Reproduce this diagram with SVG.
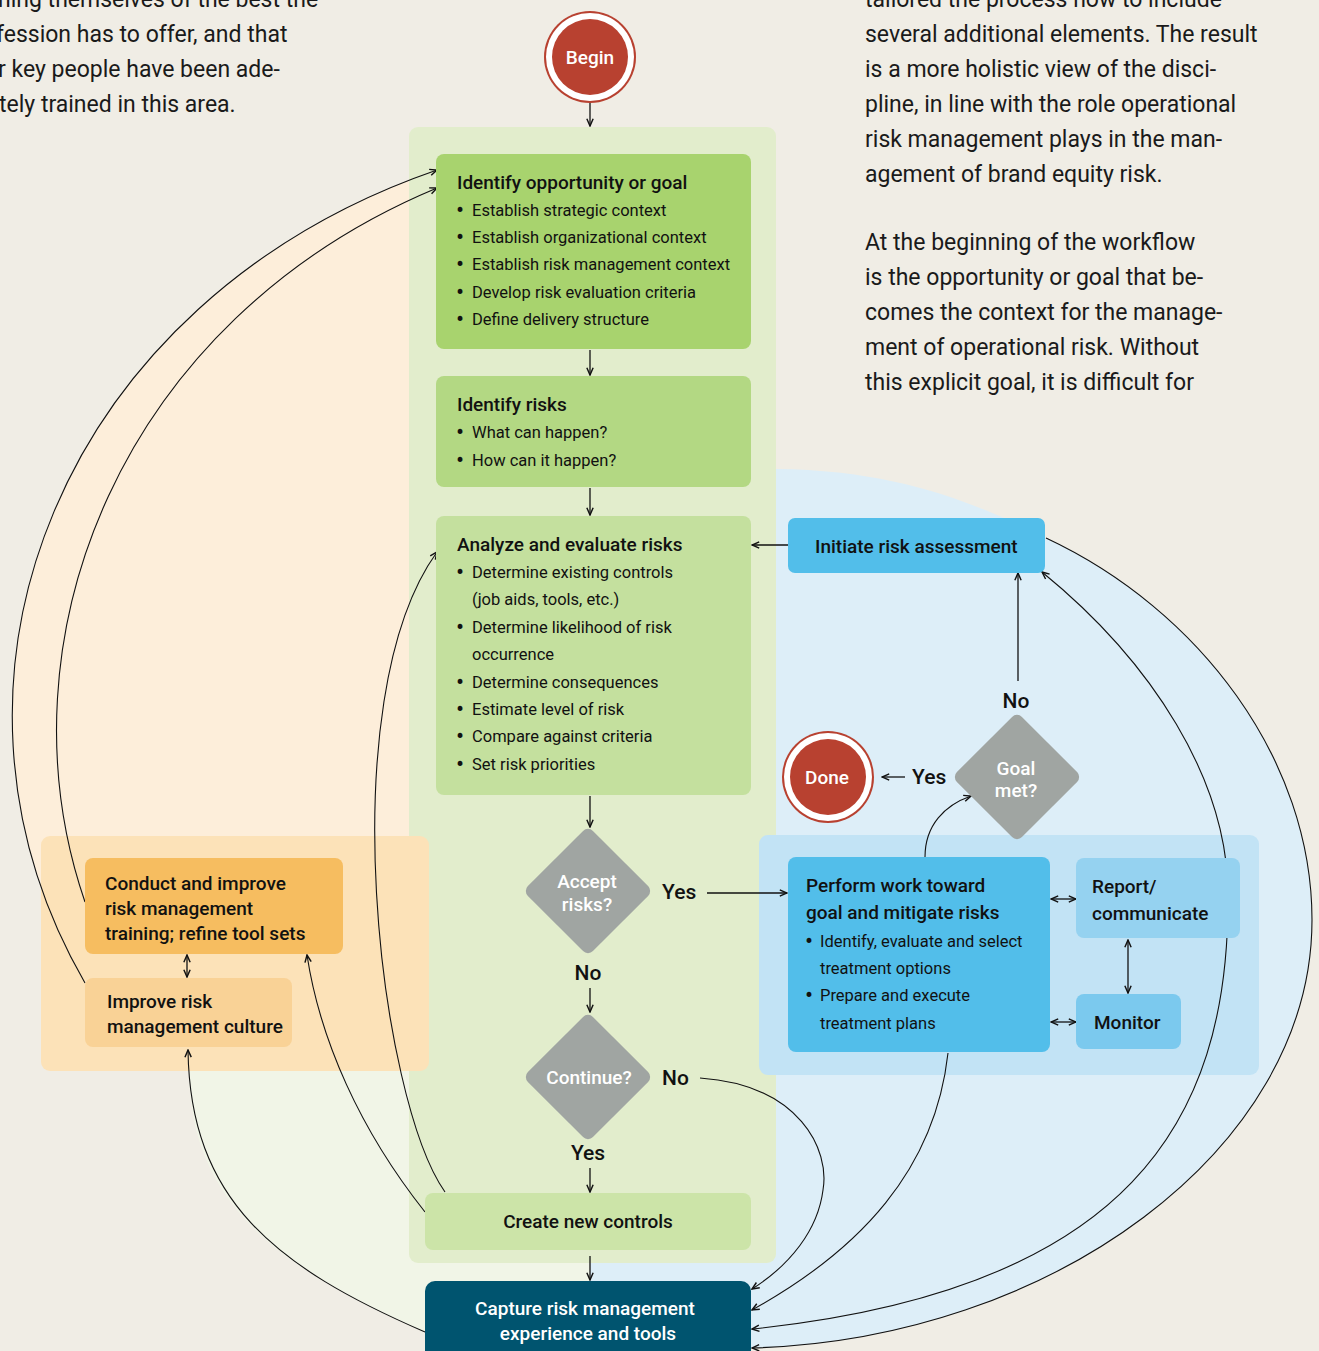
<svg xmlns="http://www.w3.org/2000/svg" width="1319" height="1351" viewBox="0 0 1319 1351">
<style>
.body{font-family:Roboto,"Liberation Sans",sans-serif;font-size:23px;fill:#1a1a1a}
.t{font-family:Roboto,"Liberation Sans",sans-serif;font-size:19px;font-weight:500;fill:#111}
.b{font-family:Roboto,"Liberation Sans",sans-serif;font-size:16.5px;fill:#111}
.d{font-family:Roboto,"Liberation Sans",sans-serif;font-size:24px;fill:#111}
.w{font-family:Roboto,"Liberation Sans",sans-serif;font-size:19px;font-weight:500;fill:#fff}
.lab{font-family:Roboto,"Liberation Sans",sans-serif;font-size:21px;font-weight:500;fill:#111}
.c{text-anchor:middle}
.ln{fill:none;stroke:#111;stroke-width:1.3}
.cv{fill:none;stroke:#111;stroke-width:1.1}
.dia{fill:#A0A5A2}
</style>
<defs>
<marker id="ah" viewBox="0 0 10 10" refX="9" refY="5" markerWidth="9" markerHeight="9" markerUnits="userSpaceOnUse" orient="auto-start-reverse">
<path d="M1,1.5 L9,5 L1,8.5" fill="none" stroke="#111" stroke-width="1.6"/>
</marker>
</defs>
<rect width="1319" height="1351" fill="#F0EDE5"/>
<g id="backgrounds">
<path d="M437,170 C60,300 -90,680 85,983 L100,1071 L430,1071 L430,160 Z" fill="#FDEEDA"/>
<path d="M425,1332 C275,1267 190,1200 189,1071 L590,1071 L590,1345 L425,1345 Z" fill="#F1F5E7"/>
<path d="M776,469 C900,470 980,505 1046,538 C1200,610 1312,760 1312,920 C1312,1150 1050,1340 752,1348 L590,1348 L590,1262 L700,1262 L700,469 Z" fill="#DDEEF8"/>
<rect x="409" y="127" width="367" height="1136" rx="9" fill="#E2EDCC"/>
<rect x="41" y="836" width="388" height="235" rx="9" fill="#FCE2B8"/>
<rect x="759" y="835" width="500" height="240" rx="9" fill="#C2E3F5"/>
</g>
<g id="text-left">
<text class="body" x="-2" y="7">ning themselves of the best the</text>
<text class="body" x="-4" y="42">fession has to offer, and that</text>
<text class="body" x="-2" y="77">r key people have been ade-</text>
<text class="body" x="-1" y="112">tely trained in this area.</text>
</g>
<g id="text-right">
<text class="body" x="865" y="7">tailored the process how to include</text>
<text class="body" x="865" y="42">several additional elements. The result</text>
<text class="body" x="865" y="77">is a more holistic view of the disci-</text>
<text class="body" x="865" y="112">pline, in line with the role operational</text>
<text class="body" x="865" y="147">risk management plays in the man-</text>
<text class="body" x="865" y="182">agement of brand equity risk.</text>
<text class="body" x="865" y="250">At the beginning of the workflow</text>
<text class="body" x="865" y="285">is the opportunity or goal that be-</text>
<text class="body" x="865" y="320">comes the context for the manage-</text>
<text class="body" x="865" y="355">ment of operational risk. Without</text>
<text class="body" x="865" y="390">this explicit goal, it is difficult for</text>
</g>
<g id="connectors">
<line class="ln" x1="590" y1="100" x2="590" y2="126" marker-end="url(#ah)"/>
<line class="ln" x1="590" y1="350" x2="590" y2="375" marker-end="url(#ah)"/>
<line class="ln" x1="590" y1="488" x2="590" y2="515" marker-end="url(#ah)"/>
<line class="ln" x1="590" y1="796" x2="590" y2="827" marker-end="url(#ah)"/>
<line class="ln" x1="707" y1="893" x2="787" y2="893" marker-end="url(#ah)"/>
<line class="ln" x1="590" y1="988" x2="590" y2="1012" marker-end="url(#ah)"/>
<line class="ln" x1="590" y1="1168" x2="590" y2="1192" marker-end="url(#ah)"/>
<line class="ln" x1="590" y1="1256" x2="590" y2="1280" marker-end="url(#ah)"/>
<line class="ln" x1="788" y1="545" x2="752" y2="545" marker-end="url(#ah)"/>
<line class="ln" x1="1018" y1="681" x2="1018" y2="573" marker-end="url(#ah)"/>
<line class="ln" x1="905" y1="777" x2="882" y2="777" marker-end="url(#ah)"/>
<path class="cv" d="M925,857 C925,825 945,805 971,796" marker-end="url(#ah)"/>
<line class="ln" x1="1051" y1="899" x2="1076" y2="899" marker-start="url(#ah)" marker-end="url(#ah)"/>
<line class="ln" x1="1051" y1="1022" x2="1076" y2="1022" marker-start="url(#ah)" marker-end="url(#ah)"/>
<line class="ln" x1="1128" y1="940" x2="1128" y2="993" marker-start="url(#ah)" marker-end="url(#ah)"/>
<line class="ln" x1="187" y1="955" x2="187" y2="977" marker-start="url(#ah)" marker-end="url(#ah)"/>
<path class="cv" d="M85,983 C-90,680 60,300 437,170" marker-end="url(#ah)"/>
<path class="cv" d="M85,902 C-5,640 120,320 437,188" marker-end="url(#ah)"/>
<path class="cv" d="M425,1212 C360,1130 320,1040 307,955" marker-end="url(#ah)"/>
<path class="cv" d="M445,1192 C380,1100 330,700 437,552" marker-end="url(#ah)"/>
<path class="cv" d="M425,1332 C275,1267 190,1200 188,1050" marker-end="url(#ah)"/>
<path class="cv" d="M700,1078 C800,1085 830,1150 823,1190 C818,1230 790,1265 752,1289" marker-end="url(#ah)"/>
<path class="cv" d="M948,1053 C935,1170 860,1250 752,1310" marker-end="url(#ah)"/>
<path class="cv" d="M1042,572 C1150,660 1230,780 1228,900 C1228,1120 1130,1290 752,1329" marker-start="url(#ah)" marker-end="url(#ah)"/>
<path class="cv" d="M1046,538 C1200,610 1312,760 1312,920 C1312,1150 1050,1340 752,1348" marker-end="url(#ah)"/>
</g>
<g id="begin">
<circle cx="590" cy="57" r="46" fill="#B84130"/>
<circle cx="590" cy="57" r="44" fill="#fff"/>
<circle cx="590" cy="57" r="38" fill="#B84130"/>
<text class="w c" x="590" y="64">Begin</text>
</g>
<g id="identify-opportunity">
<rect x="436" y="154" width="315" height="195" rx="8" fill="#A8D36E"/>
<text class="t" x="457" y="189">Identify opportunity or goal</text>
<text class="d" x="456" y="218">•</text><text class="b" x="472" y="216">Establish strategic context</text>
<text class="d" x="456" y="245">•</text><text class="b" x="472" y="243">Establish organizational context</text>
<text class="d" x="456" y="272">•</text><text class="b" x="472" y="270">Establish risk management context</text>
<text class="d" x="456" y="300">•</text><text class="b" x="472" y="298">Develop risk evaluation criteria</text>
<text class="d" x="456" y="327">•</text><text class="b" x="472" y="325">Define delivery structure</text>
</g>
<g id="identify-risks">
<rect x="436" y="376" width="315" height="111" rx="8" fill="#B3D883"/>
<text class="t" x="457" y="411">Identify risks</text>
<text class="d" x="456" y="440">•</text><text class="b" x="472" y="438">What can happen?</text>
<text class="d" x="456" y="468">•</text><text class="b" x="472" y="466">How can it happen?</text>
</g>
<g id="analyze">
<rect x="436" y="516" width="315" height="279" rx="8" fill="#C4E09E"/>
<text class="t" x="457" y="551">Analyze and evaluate risks</text>
<text class="d" x="456" y="580">•</text><text class="b" x="472" y="578">Determine existing controls</text>
<text class="b" x="472" y="605">(job aids, tools, etc.)</text>
<text class="d" x="456" y="635">•</text><text class="b" x="472" y="633">Determine likelihood of risk</text>
<text class="b" x="472" y="660">occurrence</text>
<text class="d" x="456" y="690">•</text><text class="b" x="472" y="688">Determine consequences</text>
<text class="d" x="456" y="717">•</text><text class="b" x="472" y="715">Estimate level of risk</text>
<text class="d" x="456" y="744">•</text><text class="b" x="472" y="742">Compare against criteria</text>
<text class="d" x="456" y="772">•</text><text class="b" x="472" y="770">Set risk priorities</text>
</g>
<g id="accept-risks">
<rect class="dia" x="-46" y="-46" width="92" height="92" rx="7" transform="translate(588,891) rotate(45)"/>
<text class="w c" x="587" y="888">Accept</text>
<text class="w c" x="587" y="911">risks?</text>
<text class="lab" x="662" y="899">Yes</text>
<text class="lab c" x="588" y="980">No</text>
</g>
<g id="continue">
<rect class="dia" x="-46" y="-46" width="92" height="92" rx="7" transform="translate(588,1077) rotate(45)"/>
<text class="w c" x="589" y="1084">Continue?</text>
<text class="lab" x="662" y="1085">No</text>
<text class="lab c" x="588" y="1160">Yes</text>
</g>
<g id="create-controls">
<rect x="425" y="1193" width="326" height="57" rx="8" fill="#CCE4A8"/>
<text class="t c" x="588" y="1228">Create new controls</text>
</g>
<g id="capture">
<rect x="425" y="1281" width="326" height="90" rx="10" fill="#00546F"/>
<text class="w c" x="585" y="1315">Capture risk management</text>
<text class="w c" x="588" y="1340">experience and tools</text>
</g>
<g id="initiate">
<rect x="788" y="518" width="257" height="55" rx="7" fill="#52BEEA"/>
<text class="t" x="815" y="553">Initiate risk assessment</text>
</g>
<g id="done">
<circle cx="828" cy="777" r="46" fill="#B84130"/>
<circle cx="828" cy="777" r="44" fill="#fff"/>
<circle cx="828" cy="777" r="38" fill="#B84130"/>
<text class="w c" x="827" y="784">Done</text>
<text class="lab" x="912" y="784">Yes</text>
</g>
<g id="goal-met">
<rect class="dia" x="-46" y="-46" width="92" height="92" rx="7" transform="translate(1017,777) rotate(45)"/>
<text class="w c" x="1016" y="775">Goal</text>
<text class="w c" x="1016" y="797">met?</text>
<text class="lab c" x="1016" y="708">No</text>
</g>
<g id="perform">
<rect x="788" y="857" width="262" height="195" rx="8" fill="#52BEEA"/>
<text class="t" x="806" y="892">Perform work toward</text>
<text class="t" x="806" y="919">goal and mitigate risks</text>
<text class="d" x="805" y="949">•</text><text class="b" x="820" y="947">Identify, evaluate and select</text>
<text class="b" x="820" y="974">treatment options</text>
<text class="d" x="805" y="1003">•</text><text class="b" x="820" y="1001">Prepare and execute</text>
<text class="b" x="820" y="1029">treatment plans</text>
</g>
<g id="report">
<rect x="1076" y="858" width="164" height="80" rx="8" fill="#95D2F0"/>
<text class="t" x="1092" y="893">Report/</text>
<text class="t" x="1092" y="920">communicate</text>
</g>
<g id="monitor">
<rect x="1076" y="994" width="105" height="55" rx="8" fill="#7BC9EE"/>
<text class="t" x="1094" y="1029">Monitor</text>
</g>
<g id="conduct-training">
<rect x="85" y="858" width="258" height="96" rx="8" fill="#F6BD60"/>
<text class="t" x="105" y="890">Conduct and improve</text>
<text class="t" x="105" y="915">risk management</text>
<text class="t" x="105" y="940">training; refine tool sets</text>
</g>
<g id="improve-culture">
<rect x="85" y="978" width="207" height="69" rx="8" fill="#F9D296"/>
<text class="t" x="107" y="1008">Improve risk</text>
<text class="t" x="107" y="1033">management culture</text>
</g>
</svg>
